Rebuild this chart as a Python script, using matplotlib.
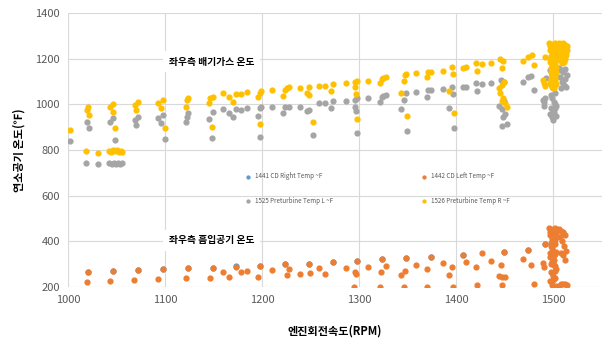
import matplotlib
matplotlib.use('Agg')
import matplotlib.pyplot as plt

plt.rcParams['font.family'] = ['Noto Sans CJK KR', 'DejaVu Sans']

# 1526 Preturbine Temp R ~F (yellow)
r_rpm = [1002, 1019, 1020, 1021, 1018, 1031, 1043, 1046, 1046, 1048,
         1042, 1044, 1046, 1048, 1050, 1052, 1054, 1055,
         1069, 1072, 1070, 1093, 1098, 1096, 1100, 1122, 1124, 1121,
         1146, 1149, 1145, 1148, 1160, 1166, 1170, 1173, 1178, 1184,
         1196, 1198, 1199, 1198, 1210, 1221, 1224, 1226, 1228, 1239,
         1246, 1248, 1248, 1252, 1259, 1265, 1271, 1273, 1286,
         1296, 1298, 1296, 1297, 1298, 1309, 1321, 1323, 1325, 1328,
         1343, 1346, 1347, 1348, 1349, 1359, 1370, 1371, 1374, 1386,
         1393, 1396, 1397, 1398, 1407, 1410, 1420, 1421, 1427, 1436,
         1445, 1448, 1447, 1444, 1447, 1449, 1445, 1448, 1447, 1450, 1452,
         1469, 1474, 1478, 1480, 1492, 1490, 1491, 1492,
         1496, 1498, 1500, 1502, 1504, 1506, 1508, 1510, 1512, 1514,
         1497, 1499, 1501, 1503, 1497, 1500, 1502, 1498, 1501, 1499, 1502,
         1498, 1500, 1503, 1499, 1501,
         1506, 1508, 1510, 1512, 1507, 1511, 1513, 1509,
         1497, 1499, 1501, 1503, 1498, 1500, 1502, 1497, 1499, 1501, 1503,
         1498, 1500, 1502, 1497, 1501, 1503, 1499,
         1505, 1507, 1509, 1511, 1513, 1505, 1507, 1509, 1511, 1513,
         1506, 1508, 1510, 1512, 1514, 1504, 1506]
r_temp = [890, 975, 988, 953, 795, 786, 988, 1000, 966, 896,
          798, 792, 800, 795, 802, 790, 798, 793,
          996, 1010, 975, 1005, 1018, 983, 896, 1018, 1027, 988,
          1027, 1031, 1005, 900, 1049, 1031, 1010, 1044, 1044, 1053,
          1031, 1049, 1058, 913, 1062, 1036, 1062, 1071, 1075, 1071,
          1049, 1075, 1040, 922, 1080, 1080, 1058, 1088, 1093,
          1097, 1101, 1075, 1044, 935, 1101, 1093, 1110, 1114, 1119,
          1049, 1101, 1128, 1132, 948, 1137, 1119, 1141, 1141, 1145,
          1058, 1163, 1132, 961, 1158, 1163, 1180, 1145, 1176, 1180,
          1198, 1189, 1158, 1071, 1084, 1097, 1049, 1027, 1015, 1005, 988,
          1189, 1206, 1215, 1171, 1206, 1106, 1093, 1080,
          1270, 1265, 1260, 1268, 1262, 1270, 1265, 1258, 1262, 1255,
          1240, 1230, 1220, 1245, 1200, 1190, 1175, 1160, 1150, 1130, 1120,
          1110, 1100, 1090, 1075, 1070,
          1240, 1225, 1210, 1200, 1195, 1185, 1230, 1180,
          1255, 1250, 1238, 1228, 1212, 1208, 1195, 1185, 1170, 1165, 1140,
          1140, 1125, 1105, 1095, 1085, 1160, 1082,
          1250, 1245, 1248, 1240, 1245, 1220, 1215, 1232, 1222, 1215,
          1262, 1255, 1268, 1250, 1240, 1265, 1205]

# 1525 Preturbine Temp L ~F (gray)
l_rpm = [1002, 1019, 1021, 1018, 1031, 1043, 1046, 1048,
         1042, 1045, 1047, 1049, 1051, 1053, 1055,
         1069, 1072, 1070, 1093, 1098, 1096, 1100, 1121, 1124, 1122,
         1145, 1149, 1148, 1160, 1166, 1170, 1173, 1178, 1184,
         1196, 1198, 1199, 1198, 1210, 1221, 1224, 1228, 1239,
         1246, 1248, 1252, 1259, 1265, 1271, 1273, 1286,
         1296, 1298, 1296, 1297, 1298, 1309, 1321, 1323, 1325, 1328,
         1343, 1346, 1348, 1349, 1359, 1370, 1371, 1374, 1386,
         1393, 1396, 1397, 1398, 1407, 1410, 1420, 1421, 1427, 1436,
         1446, 1449, 1444, 1447, 1449, 1448, 1447, 1452, 1450,
         1469, 1474, 1477, 1480, 1490, 1491, 1493, 1492, 1491,
         1497, 1499, 1501, 1503, 1498, 1500, 1502, 1499, 1501, 1503, 1498, 1500, 1502,
         1506, 1508, 1510, 1512, 1514, 1507, 1509, 1511, 1513, 1508, 1512,
         1497, 1499, 1501, 1503, 1500, 1502, 1498]
l_temp = [839, 922, 896, 742, 738, 922, 940, 843,
          745, 740, 745, 738, 744, 738, 742,
          930, 945, 910, 940, 953, 918, 848, 922, 961, 945,
          935, 966, 852, 979, 961, 945, 979, 975, 983,
          950, 983, 990, 857, 988, 961, 990, 990, 990,
          970, 975, 865, 1005, 1005, 983, 1014, 1014,
          1018, 1027, 990, 970, 874, 1027, 1010, 1031, 1036, 1040,
          979, 1018, 1049, 883, 1053, 1031, 1062, 1062, 1066,
          983, 1075, 1044, 896, 1075, 1075, 1093, 1058, 1088, 1093,
          1106, 1100, 992, 980, 1014, 944, 904, 913, 960,
          1097, 1119, 1123, 1062, 1018, 995, 1114, 1027, 1010,
          1150, 1130, 1110, 1140, 1090, 1070, 1050, 1030, 1010, 995, 985, 975, 1000,
          1160, 1150, 1140, 1155, 1130, 1120, 1100, 1085, 1075, 1072, 1110,
          960, 945, 965, 950, 930, 985, 1040]

# 1442 CD Left Temp ~F (orange)
cl_rpm = [1019, 1020, 1043, 1046, 1068, 1072, 1093, 1098, 1121, 1124, 1146, 1149,
          1160, 1166, 1173, 1178, 1184, 1196, 1198, 1210, 1224, 1226, 1228, 1239,
          1248, 1249, 1259, 1265, 1273, 1286, 1295, 1296, 1297, 1298, 1309,
          1321, 1322, 1324, 1328, 1343, 1346, 1347, 1348, 1359, 1370, 1370, 1374, 1386,
          1393, 1396, 1397, 1407, 1410, 1420, 1421, 1427, 1436,
          1444, 1446, 1447, 1449, 1447, 1450, 1469, 1474, 1477, 1480,
          1492, 1490, 1491,
          1496, 1498, 1500, 1502, 1497, 1499, 1501, 1503, 1498, 1500, 1502, 1497,
          1499, 1501, 1503, 1498, 1500, 1502, 1497, 1499, 1501, 1503, 1500, 1502,
          1498, 1501, 1499, 1502,
          1506, 1508, 1510, 1512, 1507, 1509, 1511, 1513, 1508, 1510, 1512,
          1508, 1510, 1512, 1514, 1506,
          1497, 1499, 1501, 1503, 1498, 1500, 1502, 1497, 1501, 1503, 1499, 1502]
cl_temp = [222, 266, 226, 270, 231, 274, 235, 279, 239, 283, 239, 283,
           266, 244, 288, 266, 270, 244, 292, 274, 301, 253, 279, 257,
           301, 261, 283, 257, 309, 283, 200, 266, 257, 314, 288,
           200, 266, 323, 292, 253, 200, 270, 327, 296, 200, 279, 331, 305,
           253, 288, 200, 340, 309, 288, 209, 349, 314,
           248, 296, 209, 353, 244, 244, 323, 362, 296, 213,
           388, 305, 288,
           460, 455, 450, 458, 430, 410, 400, 420, 380, 360, 345, 330,
           310, 295, 280, 265, 250, 240, 225, 210, 200, 205, 230, 270,
           300, 320, 370, 390,
           455, 445, 440, 430, 420, 400, 380, 360, 350, 340, 320,
           215, 212, 215, 210, 205,
           440, 445, 435, 438, 395, 390, 405, 350, 340, 355, 260, 290]

# 1441 CD Right Temp ~F (blue, mostly hidden)
cr_rpm = [1020, 1046, 1072, 1098, 1124, 1149, 1173, 1198, 1224, 1248, 1273,
          1298, 1324, 1348, 1374, 1407, 1449, 1474, 1492, 1500, 1510]
cr_temp = [268, 272, 276, 281, 285, 285, 290, 294, 303, 303, 311,
           316, 325, 329, 333, 342, 355, 364, 390, 440, 435]

fig = plt.figure(figsize=(6.09, 3.45), dpi=100)
ax = fig.add_axes([0.112, 0.168, 0.876, 0.794])

ms = 12
ax.scatter(cr_rpm, cr_temp, s=ms, color='#5b9bd5', label='1441 CD Right Temp ~F', zorder=3)
ax.scatter(l_rpm, l_temp, s=ms, color='#a5a5a5', label='1525 Preturbine Temp L ~F', zorder=3)
ax.scatter(cl_rpm, cl_temp, s=ms, color='#ed7d31', label='1442 CD Left Temp ~F', zorder=4)
ax.scatter(r_rpm, r_temp, s=ms, color='#ffc000', label='1526 Preturbine Temp R ~F', zorder=4)

ax.set_xlim(1000, 1550)
ax.set_ylim(200, 1400)
ax.set_xticks([1000, 1100, 1200, 1300, 1400, 1500])
ax.set_yticks([200, 400, 600, 800, 1000, 1200, 1400])
ax.grid(True, color='#d9d9d9', linewidth=0.8)
ax.set_axisbelow(True)
for s in ax.spines.values():
    s.set_visible(False)
ax.tick_params(length=0, labelsize=8, colors='#595959', pad=6)

ax.set_xlabel('엔진회전속도(RPM)', fontsize=8, fontweight='bold', labelpad=14)
ax.set_ylabel('연소공기 온도(℉)', fontsize=8, fontweight='bold')
ax.yaxis.set_label_coords(-0.08, 0.5)

ax.text(1148, 1188, '좌우측 배기가스 온도', fontsize=7, fontweight='bold', ha='center', va='center',
        bbox=dict(facecolor='white', edgecolor='none', pad=4), zorder=5)
ax.text(1148, 405, '좌우측 흡입공기 온도', fontsize=7, fontweight='bold', ha='center', va='center',
        bbox=dict(facecolor='white', edgecolor='none', pad=4), zorder=5)

leg = ax.legend(ncol=2, loc='center left', bbox_to_anchor=(0.315, 0.36), frameon=False,
                fontsize=4.5, markerscale=0.6, handletextpad=0.1, columnspacing=13.5,
                labelspacing=2.6, labelcolor='#595959')

fig.savefig('out.png', dpi=100)
